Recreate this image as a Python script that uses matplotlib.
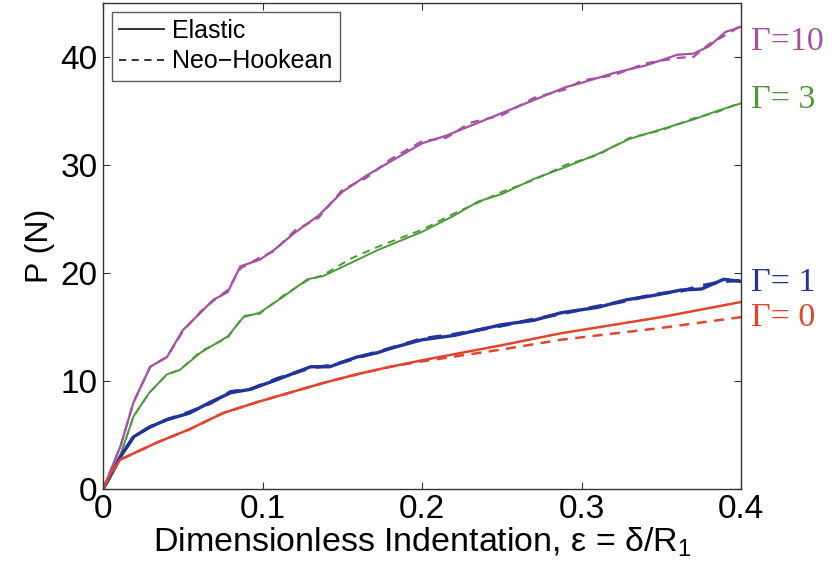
import matplotlib
matplotlib.use("Agg")
import matplotlib.pyplot as plt
import numpy as np

plt.rcParams['font.family'] = ['Liberation Sans', 'DejaVu Sans']
plt.rcParams['mathtext.fontset'] = 'custom'
plt.rcParams['mathtext.rm'] = 'Liberation Sans'

# Gamma = 10
x10 = [0, 0.005, 0.011, 0.019, 0.0295, 0.040, 0.050, 0.061, 0.069, 0.078, 0.086, 0.098, 0.107,
       0.12, 0.135, 0.15, 0.165, 0.18, 0.2, 0.215, 0.23, 0.25, 0.27, 0.29, 0.30, 0.32, 0.34,
       0.36, 0.37, 0.38, 0.39, 0.40]
e10 = [0, 1.8, 4.0, 8.0, 11.3, 12.2, 14.7, 16.3, 17.5, 18.2, 20.6, 21.2, 22.1,
       23.7, 25.3, 27.5, 29.0, 30.3, 32.0, 32.7, 33.6, 34.8, 36.0, 37.2, 37.6, 38.5, 39.2,
       40.2, 40.3, 41.0, 42.3, 42.8]
n10 = [0, 1.8, 4.0, 8.0, 11.3, 12.2, 14.6, 16.4, 17.4, 18.4, 20.4, 21.4, 22.0,
       23.9, 25.1, 27.7, 28.8, 30.5, 32.2, 32.5, 33.9, 34.6, 36.2, 37.0, 37.8, 38.3, 39.4,
       39.9, 40.0, 41.2, 42.0, 42.9]

# Gamma = 3
x3 = [0, 0.005, 0.011, 0.019, 0.029, 0.040, 0.048, 0.061, 0.078, 0.088, 0.098, 0.113, 0.128,
      0.138, 0.155, 0.172, 0.2, 0.22, 0.235, 0.25, 0.27, 0.29, 0.31, 0.33, 0.35, 0.37, 0.385, 0.4]
e3 = [0, 1.5, 3.2, 6.7, 8.9, 10.6, 11.0, 12.6, 14.1, 15.9, 16.3, 17.8, 19.4,
      19.7, 20.9, 22.1, 23.8, 25.3, 26.6, 27.3, 28.7, 29.8, 31.0, 32.4, 33.3, 34.2, 35.0, 35.7]
n3 = [0, 1.5, 3.2, 6.7, 8.9, 10.6, 11.0, 12.7, 14.0, 16.0, 16.2, 17.9, 19.3,
      19.8, 21.3, 22.4, 24.0, 25.5, 26.5, 27.5, 28.6, 30.0, 30.9, 32.5, 33.2, 34.3, 34.9, 35.8]

# Gamma = 1
x1 = [0, 0.005, 0.011, 0.019, 0.029, 0.040, 0.054, 0.067, 0.080, 0.092, 0.109, 0.130, 0.142,
      0.159, 0.172, 0.18, 0.2, 0.22, 0.25, 0.27, 0.287, 0.31, 0.328, 0.345, 0.362, 0.375, 0.389, 0.4]
e1 = [0, 1.3, 3.0, 4.8, 5.7, 6.4, 7.0, 8.0, 8.9, 9.2, 10.1, 11.3, 11.3,
      12.2, 12.6, 13.0, 13.8, 14.2, 15.2, 15.6, 16.3, 16.8, 17.5, 17.9, 18.4, 18.5, 19.4, 19.2]
n1 = [0, 1.3, 3.0, 4.8, 5.7, 6.4, 7.1, 7.9, 9.0, 9.2, 10.2, 11.2, 11.4,
      12.1, 12.7, 13.0, 13.9, 14.3, 15.1, 15.7, 16.2, 16.9, 17.4, 18.0, 18.3, 18.8, 19.2, 19.3]

# Gamma = 0
x0 = [0, 0.005, 0.0107, 0.034, 0.054, 0.075, 0.096, 0.117, 0.138, 0.159, 0.180, 0.2, 0.25,
      0.287, 0.35, 0.4]
e0 = [0, 1.5, 2.7, 4.3, 5.5, 7.0, 8.0, 8.9, 9.8, 10.6, 11.3, 11.9, 13.3, 14.4, 15.9, 17.3]
n0 = [0, 1.5, 2.7, 4.3, 5.5, 7.0, 8.0, 8.9, 9.8, 10.6, 11.3, 11.8, 12.9, 13.8, 14.9, 15.9]

labels = ['\u0393=10', '\u0393= 3', '\u0393= 1', '\u0393= 0']
label_y = [41.4, 36.0, 19.1, 15.8]
colors = ['#a552a5', '#4c9a3c', '#22339c', '#e2452f']
widths = [1.6, 1.4, 2.4, 1.8]

fig = plt.figure(figsize=(8.32, 5.75), dpi=100)
ax = fig.add_axes([0.124, 0.150, 0.767, 0.845])

series = [(x10, e10, n10), (x3, e3, n3), (x1, e1, n1), (x0, e0, n0)]
for (xs, es, ns), c, w in zip(series, colors, widths):
    ax.plot(xs, ns, color=c, lw=w, ls=(0, (4, 3)))
    ax.plot(xs, es, color=c, lw=w)

for lab, yy, c in zip(labels, label_y, colors):
    ax.text(0.406, yy, lab, color=c, fontsize=24.5, family='Liberation Serif',
            va='center', ha='left', clip_on=False)

ax.plot([], [], color='#222222', lw=1.3, label='Elastic')
ax.plot([], [], color='#222222', lw=1.3, ls=(0, (4, 3)), label='Neo\u2212Hookean')
ax.legend(loc='upper left', fontsize=18, frameon=True, fancybox=False, edgecolor='#333333',
          handlelength=1.8, handletextpad=0.3, borderpad=0.3, labelspacing=0.25,
          borderaxespad=0.35)

ax.set_xlim(0, 0.4)
ax.set_ylim(0, 45)
ax.set_xticks([0, 0.1, 0.2, 0.3, 0.4])
ax.set_xticklabels(['0', '0.1', '0.2', '0.3', '0.4'])
ax.set_yticks([0, 10, 20, 30, 40])
ax.tick_params(direction='in', top=True, right=True, labelsize=24, length=5, color='#333333',
               pad=4)
for s in ax.spines.values():
    s.set_color('#333333')
    s.set_linewidth(1.0)

ax.set_xlabel('Dimensionless Indentation, \u03b5 = \u03b4/R$_1$', fontsize=24.5, labelpad=0)
ax.set_ylabel('P (N)', fontsize=23, labelpad=4)

plt.savefig('out.png', dpi=100)
